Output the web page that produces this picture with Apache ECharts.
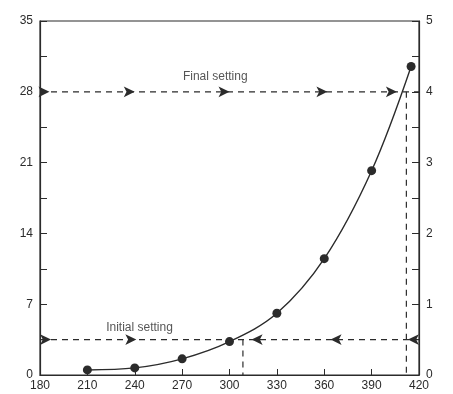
<!DOCTYPE html>
<html>
<head>
<meta charset="utf-8">
<script src="https://cdn.jsdelivr.net/npm/echarts@6/dist/echarts.min.js"></script>
<style>
  html, body { margin: 0; padding: 0; background: #fff; }
  #chart { width: 453px; height: 394px; }
</style>
</head>
<body>
<div id="chart"></div>
<script>
// measured points
var temps = [210, 240, 270, 300, 330, 360, 390, 415];
var values = [0.5, 0.7, 1.6, 3.3, 6.1, 11.5, 20.2, 30.5];

// setting lines (left axis units)
var finalSetting = 28;
var initialSetting = 3.5;
var finalCross = 412;
var initialCross = 308.5;

// arrow positions along the setting lines
var finalArrowsRight = [186, 240, 300, 362, 406];
var initialArrowsRight = [187, 241];
var initialArrowsLeft = [314, 364, 413];

var ink = '#2b2b2b';
var chart = echarts.init(document.getElementById('chart'));

function dashed(points) {
    return {
        type: 'line',
        data: points,
        symbol: 'none',
        silent: true,
        lineStyle: { color: ink, width: 1.2, type: [6, 5] },
        z: 2
    };
}

function arrows(xs, yv, rot) {
    return {
        type: 'scatter',
        data: xs.map(function (x) { return [x, yv]; }),
        symbol: 'arrow',
        symbolSize: [8, 11],
        symbolRotate: rot,
        itemStyle: { color: ink, opacity: 1 },
        silent: true,
        z: 4
    };
}

var option = {
    backgroundColor: '#fff',
    animation: false,
    grid: { left: 40, right: 34, top: 21, bottom: 19, show: true, borderColor: ink, borderWidth: 1.2 },
    xAxis: {
        type: 'value', min: 180, max: 420, interval: 30,
        axisLine: { lineStyle: { color: ink, width: 1.2 } },
        axisTick: { inside: true, length: 6, lineStyle: { color: ink } },
        axisLabel: { color: ink, fontSize: 12, fontFamily: 'Liberation Sans', margin: 5 },
        splitLine: { show: false }
    },
    yAxis: [{
        type: 'value', min: 0, max: 35, interval: 3.5,
        axisLine: { show: true, lineStyle: { color: ink, width: 1.2 } },
        axisTick: { show: true, inside: true, length: 7, lineStyle: { color: ink } },
        axisLabel: {
            color: ink, fontSize: 12, fontFamily: 'Liberation Sans', margin: 7,
            formatter: function (v) { return v % 7 === 0 ? v : ''; }
        },
        splitLine: { show: false }
    }, {
        type: 'value', min: 0, max: 5, interval: 0.5,
        axisLine: { show: true, lineStyle: { color: ink, width: 1.2 } },
        axisTick: { show: true, inside: true, length: 7, lineStyle: { color: ink } },
        axisLabel: {
            color: ink, fontSize: 12, fontFamily: 'Liberation Sans', margin: 7,
            formatter: function (v) { return v % 1 === 0 ? v : ''; }
        },
        splitLine: { show: false }
    }],
    series: [
        dashed([[180, finalSetting], [420, finalSetting]]),
        dashed([[finalCross, finalSetting], [finalCross, 0]]),
        dashed([[180, initialSetting], [420, initialSetting]]),
        dashed([[initialCross, initialSetting], [initialCross, 0]]),
        arrows(finalArrowsRight, finalSetting, -90),
        arrows(initialArrowsRight, initialSetting, -90),
        arrows(initialArrowsLeft, initialSetting, 90),
        {
            type: 'line',
            data: temps.map(function (t, i) { return [t, values[i]]; }),
            smooth: 0.35,
            symbol: 'circle',
            symbolSize: 9,
            itemStyle: { color: ink },
            lineStyle: { color: ink, width: 1.4 },
            z: 5
        },
        {
            type: 'scatter',
            symbolSize: 0,
            itemStyle: { color: ink },
            silent: true,
            data: [
                { value: [291, 29.5], label: { formatter: 'Final setting' } },
                { value: [243, 4.7], label: { formatter: 'Initial setting' } }
            ],
            label: { show: true, position: 'inside', color: ink, fontSize: 12, fontFamily: 'Liberation Sans' }
        }
    ]
};
chart.setOption(option);
</script>
</body>
</html>
